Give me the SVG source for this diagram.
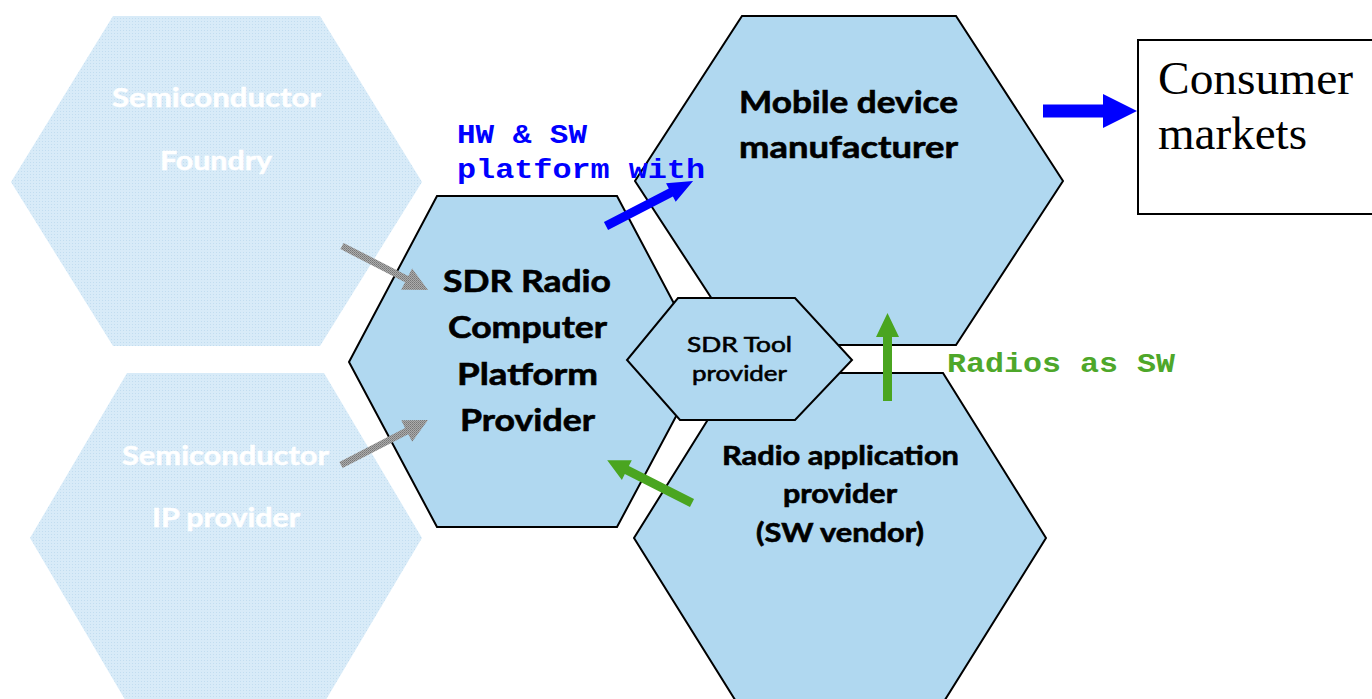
<svg xmlns="http://www.w3.org/2000/svg" width="1372" height="699" viewBox="0 0 1372 699">
  <defs>
    <!-- fine dotted texture for the faded outer hexagons -->
    <pattern id="paleDots" x="0" y="0" width="3" height="3" patternUnits="userSpaceOnUse">
      <rect width="3" height="3" fill="#d8ebf8"/>
      <rect width="1" height="1" fill="#c2ddf0"/>
    </pattern>
    <!-- dotted grey texture for the input arrows -->
    <pattern id="greyDots" x="0" y="0" width="2" height="2" patternUnits="userSpaceOnUse">
      <rect width="2" height="2" fill="#ababab"/>
      <rect width="1" height="1" fill="#767676"/>
      <rect x="1" y="1" width="1" height="1" fill="#868686"/>
    </pattern>
    <style>
      .pale { fill: url(#paleDots); stroke: none; }
      .hex { fill: #b0d8f0; stroke: #000; stroke-width: 2; stroke-linejoin: miter; }
      .lbl { font-family: Lato, "Open Sans", sans-serif; font-weight: bold; fill: #000; stroke: #000; stroke-width: 0.6px; }
      .paleLbl { font-family: Lato, "Open Sans", sans-serif; font-weight: bold; fill: #ffffff; stroke: #ffffff; stroke-width: 0.5px; font-size: 27px; }
      .toolLbl { font-family: Lato, "Open Sans", sans-serif; font-weight: normal; fill: #000; stroke: #000; stroke-width: 0.6px; font-size: 22px; }
      .mono { font-family: "Liberation Mono", "Courier New", monospace; font-weight: bold; font-size: 27px; }
      .serif { font-family: "Liberation Serif", "Times New Roman", serif; font-size: 46px; fill: #000; }
      .blueArrow { fill: #0000ff; }
      .greenArrow { fill: #4aa520; }
      .greyArrow { fill: url(#greyDots); }
    </style>
  </defs>

  <rect width="1372" height="699" fill="#ffffff"/>

  <!-- faded supplier hexagons -->
  <g id="semiconductor-foundry">
    <polygon class="pale" points="113,16 320,16 422,182 320,346 113,346 11,182"/>
    <text class="paleLbl" x="112" y="107" textLength="209" lengthAdjust="spacingAndGlyphs">Semiconductor</text>
    <text class="paleLbl" x="160" y="170" textLength="112" lengthAdjust="spacingAndGlyphs">Foundry</text>
  </g>
  <g id="semiconductor-ip-provider">
    <polygon class="pale" points="127,373 324,373 422,538 324,703 127,703 30,538"/>
    <text class="paleLbl" x="122" y="465" textLength="207" lengthAdjust="spacingAndGlyphs">Semiconductor</text>
    <text class="paleLbl" x="152" y="527" textLength="148" lengthAdjust="spacingAndGlyphs">IP provider</text>
  </g>

  <!-- main ecosystem hexagons -->
  <g id="mobile-device-manufacturer">
    <polygon class="hex" points="742,16 956,16 1063,181 956,345 742,345 635,181"/>
    <text class="lbl" font-size="30" x="739" y="113" textLength="219" lengthAdjust="spacingAndGlyphs">Mobile device</text>
    <text class="lbl" font-size="30" x="739" y="158" textLength="219" lengthAdjust="spacingAndGlyphs">manufacturer</text>
  </g>
  <g id="radio-application-provider">
    <polygon class="hex" points="737,373 943,373 1046,538 943,703 737,703 634,538"/>
    <text class="lbl" font-size="26" x="722" y="465" textLength="237" lengthAdjust="spacingAndGlyphs">Radio application</text>
    <text class="lbl" font-size="26" x="783" y="503" textLength="114" lengthAdjust="spacingAndGlyphs">provider</text>
    <text class="lbl" font-size="26" x="756" y="542" textLength="168" lengthAdjust="spacingAndGlyphs">(SW vendor)</text>
  </g>
  <g id="sdr-radio-computer-platform-provider">
    <polygon class="hex" points="437,196 617,196 705,362 617,527 437,527 349,362"/>
    <text class="lbl" font-size="30" x="443" y="292" textLength="168" lengthAdjust="spacingAndGlyphs">SDR Radio</text>
    <text class="lbl" font-size="30" x="448" y="338" textLength="159" lengthAdjust="spacingAndGlyphs">Computer</text>
    <text class="lbl" font-size="30" x="457" y="385" textLength="141" lengthAdjust="spacingAndGlyphs">Platform</text>
    <text class="lbl" font-size="30" x="460" y="431" textLength="135" lengthAdjust="spacingAndGlyphs">Provider</text>
  </g>
  <g id="sdr-tool-provider">
    <polygon class="hex" points="678,298 795,298 852,360 795,420 680,420 627,360"/>
    <text class="toolLbl" x="687" y="352" textLength="105" lengthAdjust="spacingAndGlyphs">SDR Tool</text>
    <text class="toolLbl" x="692" y="381" textLength="95" lengthAdjust="spacingAndGlyphs">provider</text>
  </g>

  <!-- consumer markets box -->
  <g id="consumer-markets">
    <rect x="1138" y="40" width="250" height="174" fill="#ffffff" stroke="#000" stroke-width="2"/>
    <text class="serif" x="1158" y="94" textLength="195" lengthAdjust="spacingAndGlyphs">Consumer</text>
    <text class="serif" x="1158" y="149" textLength="149" lengthAdjust="spacingAndGlyphs">markets</text>
  </g>

  <!-- connectors -->
  <g id="connectors">
    <!-- grey supply arrows into the platform provider -->
    <polygon class="greyArrow" points="340.41,249.12 405.05,282.19 401.17,289.75 428,290 412.11,268.39 408.23,275.96 343.59,242.89"/>
    <polygon class="greyArrow" points="342.61,468.11 408.29,434.14 412.19,441.69 428,420 401.17,420.37 405.07,427.92 339.39,461.89"/>

    <!-- platform to device maker -->
    <polygon class="blueArrow" points="0,-4.5 73,-4.5 73,-10.5 98,0 73,10.5 73,4.5 0,4.5" transform="translate(606 226) rotate(-27.3)"/>
    <!-- device maker to consumer markets -->
    <polygon class="blueArrow" points="1043,104.5 1103,104.5 1103,94 1137,111 1103,128 1103,117.5 1043,117.5"/>

    <!-- radio software flows -->
    <polygon class="greenArrow" points="0,-4.5 64,-4.5 64,-11.5 88,0 64,11.5 64,4.5 0,4.5" transform="translate(887.5 401) rotate(-90)"/>
    <polygon class="greenArrow" points="0,-4.5 73,-4.5 73,-11 95,0 73,11 73,4.5 0,4.5" transform="translate(692 503) rotate(206.8)"/>

    <text class="mono" fill="#0000ff" x="457" y="143" textLength="130" lengthAdjust="spacingAndGlyphs">HW &amp; SW</text>
    <text class="mono" fill="#0000ff" x="457" y="178" textLength="248" lengthAdjust="spacingAndGlyphs">platform with</text>
    <text class="mono" fill="#4ea72a" x="947" y="372" textLength="228" lengthAdjust="spacingAndGlyphs">Radios as SW</text>
  </g>
</svg>
